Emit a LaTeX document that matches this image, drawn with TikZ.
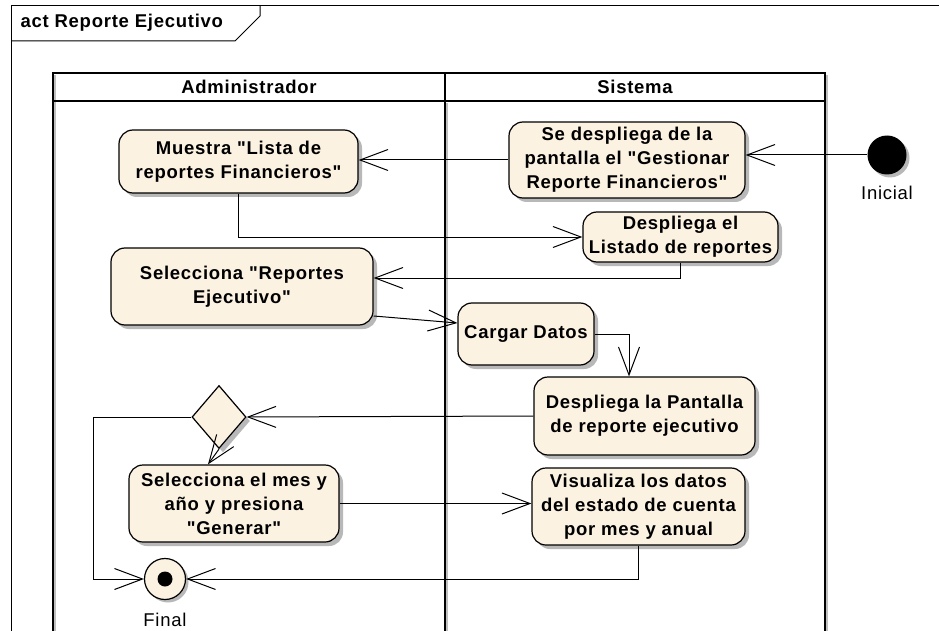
\documentclass[tikz,border=0pt]{standalone}
\usepackage{fontspec}
\newfontfamily\arialf{Liberation Sans}[LetterSpace=4]
\usetikzlibrary{arrows.meta,shapes.geometric,shadows,calc}
\definecolor{cream}{RGB}{251,242,226}
\tikzset{
  act/.style={draw=black, line width=1.2pt, fill=cream, rounded corners=14pt, inner sep=0pt,
    align=center, font=\arialf\fontsize{18.5}{24}\selectfont\bfseries,
    drop shadow={shadow xshift=4pt, shadow yshift=-4pt, fill=black!28, opacity=1}},
  flow/.style={draw=black, line width=1pt, -{Straight Barb[length=28pt,width=21pt,line width=1pt]}},
  lbl/.style={font=\arialf\fontsize{18.5}{22}\selectfont},
  hdr/.style={font=\arialf\fontsize{18.5}{22}\selectfont\bfseries},
}
\begin{document}
\begin{tikzpicture}[x=1pt,y=-1pt]
\useasboundingbox (0,0) rectangle (939,631);
% frame
\draw[line width=1pt] (11,631) -- (11,6) -- (939,6);
\draw[line width=1pt] (11,41) -- (235,41) -- (260,16) -- (260,6);
\node[hdr, anchor=west] (title) at (17,23) {act Reporte Ejecutivo};
% swimlanes
\draw[line width=2pt, black!25] (55,75) -- (55,640);
\draw[line width=2pt, black!25] (447,103) -- (447,640);
\draw[line width=2pt, black!25] (827,75) -- (827,640);
\draw[line width=1.8pt] (53,640) -- (53,73) -- (825,73) -- (825,640);
\draw[line width=1.8pt] (53,101) -- (825,101);
\draw[line width=1.8pt] (445,73) -- (445,640);
\node[hdr] (lA) at (249,87) {Administrador};
\node[hdr] (lS) at (635,87) {Sistema};
% nodes
\node[act, minimum width=239pt, minimum height=63pt] (mue) at (238.5,161.5) {Muestra "Lista de\\reportes Financieros"};
\node[act, minimum width=262pt, minimum height=77pt] (sel1) at (242,286.5) {Selecciona "Reportes\\Ejecutivo"};
\node[act, minimum width=236pt, minimum height=76pt] (sed) at (627,160) {Se despliega de la\\pantalla el "Gestionar\\Reporte Financieros"};
\node[act, minimum width=195pt, minimum height=50pt] (lis) at (680.5,237) {Despliega el\\Listado de reportes};
\node[act, minimum width=136pt, minimum height=62pt] (car) at (526,334) {Cargar Datos};
\node[act, minimum width=221pt, minimum height=78pt] (pan) at (644.5,416) {Despliega la Pantalla\\de reporte ejecutivo};
\node[act, minimum width=213pt, minimum height=77pt] (vis) at (638.5,506.5) {Visualiza los datos\\del estado de cuenta\\por mes y anual};
\node[act, minimum width=210pt, minimum height=77pt] (mes) at (234,503.5) {Selecciona el mes y\\año y presiona\\"Generar"};
\node[draw=black, line width=1.2pt, fill=cream, diamond, shape aspect=0.857, minimum width=54pt, minimum height=63pt, inner sep=0pt,
  drop shadow={shadow xshift=4pt, shadow yshift=-4pt, fill=black!28, opacity=1}] (dia) at (219,417) {};
\node[circle, fill=black, minimum size=39pt, inner sep=0pt,
  drop shadow={shadow xshift=3pt, shadow yshift=-3pt, fill=black!28, opacity=1}] (ini) at (887,155) {};
\node[lbl] (iniL) at (887,193) {Inicial};
\node[circle, draw=black, line width=1.2pt, fill=cream, minimum size=41pt, inner sep=0pt,
  drop shadow={shadow xshift=3pt, shadow yshift=-3pt, fill=black!28, opacity=1}] (fin) at (165,579) {};
\fill[black] (fin.center) circle (7.5);
\node[lbl] (finL) at (165,620) {Final};
% bend coordinates
\coordinate (b1) at (0,278);
\coordinate (b2) at (93,0);
% edges
\draw[flow] (ini) -- (ini -| sed.east);
\draw[flow] (sed.west) -- (sed.west -| mue.east);
\draw[flow] (mue.south) |- (lis.west);
\draw[flow] (lis.south) -- (lis.south |- b1) -- (b1 -| sel1.east);
\draw[flow] ([yshift=-29.5pt]sel1.east) -- ([yshift=11pt]car.west);
\draw[flow] (car.east) -| ([xshift=-15.5pt]pan.north);
\draw[flow] (pan.west) -- (dia.east);
\draw[flow] (dia.south) -- ([xshift=-26pt]mes.north);
\draw[flow] (dia.west) -- (dia.west -| b2) |- (fin.west);
\draw[flow] (mes.east) -- (mes.east -| vis.west);
\draw[flow] (vis.south) |- (fin.east);
\end{tikzpicture}
\end{document}
